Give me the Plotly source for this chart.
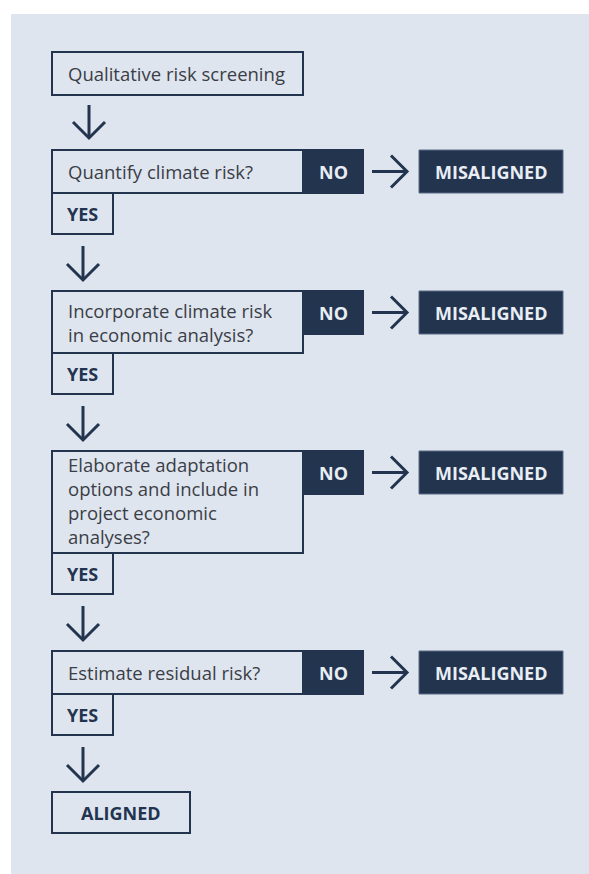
import plotly.graph_objects as go

# ---- content ----
start_label = "Qualitative risk screening"
questions = [
    ["Quantify climate risk?"],
    ["Incorporate climate risk", "in economic analysis?"],
    ["Elaborate adaptation", "options and include in", "project economic", "analyses?"],
    ["Estimate residual risk?"],
]
yes_label = "YES"
no_label = "NO"
misaligned_label = "MISALIGNED"
end_label = "ALIGNED"

# ---- styles ----
NAVY = "#23344f"
BG = "#dfe5ef"
TXT = "#3a3e46"
LIGHT = "#e9edf4"
FONT = "Open Sans"
QSIZE = 18.5
BSIZE = 18

W, H = 589, 874

shapes = []
ann = []

def rect(x0, y0, x1, y1, fill, line=NAVY, lw=2):
    shapes.append(dict(type="rect", xref="x", yref="y", x0=x0, y0=y0, x1=x1, y1=y1,
                       fillcolor=fill, line=dict(color=line, width=lw), layer="above"))

def path(pts, lw=3):
    d = "M" + " L".join(f"{a},{b}" for a, b in pts)
    shapes.append(dict(type="path", xref="x", yref="y", path=d,
                       line=dict(color=NAVY, width=lw), layer="above"))

def down_arrow(cx, y0, y1):
    path([(cx, y0), (cx, y1)])
    path([(cx - 16, y1 - 16), (cx, y1), (cx + 16, y1 - 16)])

def right_arrow(x0, x1, cy):
    path([(x0, cy), (x1, cy)])
    path([(x1 - 16, cy - 16), (x1, cy), (x1 - 16, cy + 16)])

def text(x, y, s, size=QSIZE, color=TXT, bold=False, anchor="left"):
    ann.append(dict(x=x, y=y, xref="x", yref="y", text=(f"<b>{s}</b>" if bold else s),
                    showarrow=False, xanchor=anchor, yanchor="middle", align="left",
                    font=dict(family=FONT, size=size, color=color)))

# panel
shapes.append(dict(type="rect", xref="x", yref="y", x0=11, y0=14, x1=W + 20, y1=H + 20,
                   fillcolor=BG, line=dict(width=0), layer="below"))

# layout geometry
LX, QX1, NOX1 = 52, 303, 363
MX0, MX1 = 419, 563
YESX1 = 113
row_h = 43
line_px = 20

# start box
rect(LX, 52, QX1, 95, BG)
text(66, 73.5, start_label)
down_arrow(89, 105, 138)

y = 150
for lines in questions:
    n = len(lines)
    qh = row_h if n == 1 else 22 + n * line_px
    y_top, y_bot = y, y + qh
    rect(LX, y_top, QX1, y_bot, BG)
    text(66, y_top + qh / 2 - (1.5 if n > 2 else 0), "<br>".join(lines))
    rect(QX1, y_top, NOX1, y_top + row_h, NAVY)
    text((QX1 + NOX1) / 2, y_top + row_h / 2, no_label, size=BSIZE, color=LIGHT, bold=True, anchor="center")
    right_arrow(372, 407, y_top + row_h / 2)
    rect(MX0, y_top, MX1, y_top + row_h, NAVY, line="#5a6b86", lw=1)
    text((MX0 + MX1) / 2, y_top + row_h / 2, misaligned_label, size=BSIZE, color=LIGHT, bold=True, anchor="center")
    rect(LX, y_bot, YESX1, y_bot + 41, BG)
    text((LX + YESX1) / 2, y_bot + 20.5, yes_label, size=BSIZE, color=NAVY, bold=True, anchor="center")
    a0 = y_bot + 53
    down_arrow(83, a0, a0 + 34)
    y = a0 + 45

rect(LX, y, 190, y + 41, BG)
text(121, y + 20.5, end_label, size=BSIZE, color=NAVY, bold=True, anchor="center")

fig = go.Figure()
fig.update_layout(
    width=W, height=H, margin=dict(l=0, r=0, t=0, b=0),
    paper_bgcolor="white", plot_bgcolor="white",
    xaxis=dict(range=[0, W], visible=False, fixedrange=True),
    yaxis=dict(range=[H, 0], visible=False, fixedrange=True),
    shapes=shapes, annotations=ann, showlegend=False,
)
fig.write_html("out.html", config={"displayModeBar": False, "staticPlot": True},
               post_script="document.body.style.margin='0px';document.body.style.overflow='hidden';")
